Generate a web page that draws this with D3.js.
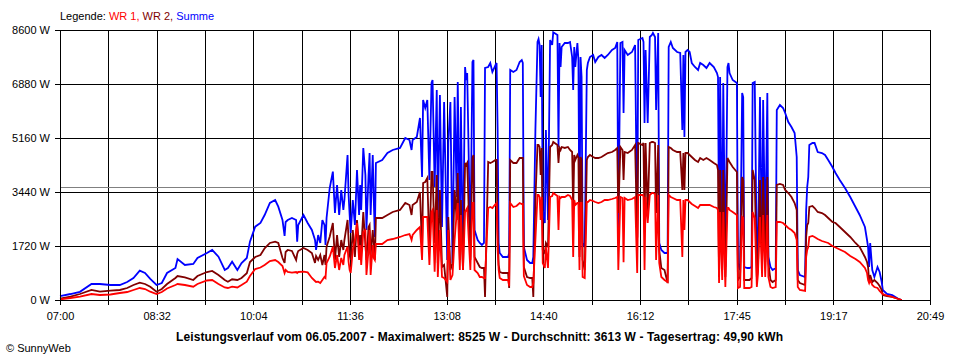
<!DOCTYPE html>
<html>
<head>
<meta charset="utf-8">
<script src="https://cdn.jsdelivr.net/npm/d3@7"></script>
<style>
  html, body { margin: 0; padding: 0; background: #fff; }
  svg { display: block; }
  text { font-family: "Liberation Sans", Arial, sans-serif; }
</style>
</head>
<body>
<svg id="chart" width="960" height="360"></svg>
<script>
// ---- Data (minutes after 07:00, watts) ----
const minutes = [
  0,10,19,30,38,48,57,64,70,76,
  81,86,92,97,102,110,112,119,127,131,
  140,145,151,157,160,164,169,173,178,181,
  186,191,195,200,205,208,212,214,215,217,
  221,225,226,227,232,236,240,243,244,246,
  248,250,252,253,254,257,260,262,264,266,
  268,270,271,274,275,276,277,279,281,283,
  285,286,287,289,291,292,294,295,296,298,
  299,300,301,307,312,317,324,329,333,335,
  336,340,343,345,346,348,350,352,354,355,
  357,359,360,362,364,366,369,370,372,374,
  376,378,379,381,382,384,386,387,388,391,
  393,394,395,398,400,402,404,405,408,410,
  412,415,416,417,418,419,422,427,428,429,
  432,435,438,440,441,442,445,448,450,451,
  453,455,456,457,458,459,460,462,463,465,
  467,469,470,474,475,476,477,478,481,484,
  486,488,489,490,491,493,494,495,496,497,
  498,500,502,503,505,508,510,513,516,519,
  522,526,529,531,532,534,536,537,538,541,
  545,548,550,551,555,556,557,558,560,562,
  564,565,567,568,570,571,573,576,579,580,
  582,584,588,591,593,594,595,596,598,600,
  602,605,608,610,613,616,619,623,626,627,
  628,629,631,632,634,636,637,638,641,645,
  646,648,650,651,652,655,657,659,660,662,
  664,665,667,669,670,672,674,675,677,679,
  682,683,686,689,691,694,697,700,702,703,
  705,710,711,712,713,714,717,719,722,726,
  729,732,736,739,743,748,753,758,762,767,
  769,770,771,772,774,776,779,781,783,784,
  788,793,796,799,802
];

const wr1 = [
  20,64,105,191,159,175,223,255,319,382,
  350,265,191,255,366,478,510,478,424,510,
  621,637,510,398,382,424,400,478,583,764,
  987,1035,1115,1242,1274,1210,1083,860,956,892,
  873,892,860,892,901,880,701,605,573,583,
  541,637,733,701,1179,1379,1698,1019,1433,956,
  1338,1115,1433,1698,1210,956,860,1593,1911,2450,
  1274,1752,1115,2166,2230,796,1593,2230,796,1752,
  1338,1274,1784,1784,1911,1943,2007,2070,2102,1911,
  2070,2230,2325,1274,2644,2644,2644,1115,2803,2867,
  900,2867,733,2230,733,701,573,2230,637,796,
  1911,2771,3090,956,2707,956,2803,2867,2930,956,
  3090,3090,956,860,733,733,701,701,2930,2962,
  2930,3058,3090,1593,956,701,637,637,446,3090,
  2962,2994,3090,3058,3058,764,478,414,414,541,
  1911,3344,3344,3281,2548,3281,1179,1019,1688,1019,
  3281,3313,3408,3313,2230,3281,3249,3281,3281,3344,
  3313,3185,1370,3185,3026,3090,3090,956,3090,3090,
  733,701,3121,3121,3185,3153,3121,3090,3121,3185,
  3185,3217,3249,3281,956,3281,3249,1200,3249,3185,
  3217,3281,860,3344,3344,3313,956,3281,2453,3344,
  3408,3408,3376,1274,3344,1179,733,637,573,3344,
  3281,3249,3185,3185,1370,3185,2230,3185,3185,3121,
  3058,2994,2930,3026,3026,3026,3026,2962,2930,2867,
  541,2803,637,2803,414,2930,2930,2867,2803,2707,
  382,414,2644,2612,382,382,382,414,2803,2612,
  414,796,2644,733,2707,733,2707,733,414,382,
  414,2484,2484,2453,2389,2293,2230,2134,1911,414,
  319,287,1370,1593,1688,2007,2039,2007,1943,1879,
  1847,1816,1720,1672,1608,1529,1401,1306,1210,1019,
  860,637,541,637,478,414,382,287,223,191,
  143,96,64,32,0
];

const wr2 = [
  41,105,191,319,265,297,319,382,478,551,
  510,424,265,350,510,701,764,723,637,764,
  892,924,796,637,583,660,637,700,853,1210,
  1370,1433,1647,1816,1857,1816,1338,1179,1529,1593,
  1561,1274,1465,1560,1656,1593,1497,1179,1401,1274,
  1433,1115,1433,1115,1698,2016,2453,1274,2070,1370,
  1911,1593,1911,2548,1911,1433,1274,2230,1370,2548,
  1688,2070,1593,2803,1752,1274,2325,2389,1433,2230,
  1752,1274,2612,2612,2707,2803,2867,3090,3026,2707,
  3026,3121,3440,1593,3727,3759,3886,1593,4077,4077,
  1816,3982,1179,3504,1051,1115,96,2644,956,1179,
  3504,2548,4045,1274,3185,956,4364,4300,4364,1274,
  4523,4619,1370,1179,1051,1019,1019,96,4396,4364,
  4396,4459,4459,2230,1115,892,860,860,382,4459,
  4364,4364,4523,4523,4523,1051,733,701,701,96,
  3185,4937,4937,4873,3982,4842,1593,1497,1816,1688,
  4873,4937,5033,4937,4364,4842,4778,4873,4842,4873,
  4778,4714,2867,4619,4459,4619,4523,1370,4555,4459,
  1274,956,4459,4555,4619,4555,4523,4523,4555,4619,
  4682,4714,4778,4842,2771,4873,4778,3822,4714,4682,
  4778,4937,1975,5001,4937,5001,2230,5001,2771,5001,
  5033,5033,5001,2771,4937,1593,1019,956,541,4873,
  4842,4778,4714,4714,3504,4682,3504,4682,4682,4619,
  4555,4459,4396,4523,4459,4523,4459,4364,4300,4141,
  733,4141,956,4141,733,4523,4459,4396,4236,4077,
  637,733,3918,3822,637,637,637,701,4141,3822,
  733,956,3822,1179,3918,1210,3918,1179,637,573,
  637,3663,3695,3663,3504,3408,3281,3090,2867,637,
  541,478,2007,2389,2453,2962,2994,2930,2803,2771,
  2707,2612,2484,2453,2325,2166,2007,1816,1688,1370,
  1210,1051,573,796,573,637,541,446,319,159,
  127,96,64,32,0
];

const summe = [
  127,191,260,510,510,478,478,573,700,933,
  860,670,478,541,860,1019,1306,1115,1147,1338,
  1497,1593,1379,956,1019,1220,956,1179,1338,1857,
  2335,2453,2707,3090,3185,2972,2548,2039,2484,2548,
  2612,2548,1857,2389,2707,2453,2230,1911,1593,2070,
  1816,2548,2389,1752,2612,3567,4090,2771,3663,2707,
  3504,2867,3185,4619,3344,2707,2134,3185,2389,4141,
  2707,3663,2867,4842,3982,2230,3982,4682,2707,4619,
  3185,2007,4364,4459,4682,4778,4842,5160,5096,4778,
  5096,5192,5797,3918,6370,6116,6370,3822,6912,7007,
  3599,6689,2644,6530,2325,6307,1274,5001,6307,1179,
  6466,3281,6944,2007,6147,1179,7421,7007,7230,1688,
  7581,7644,2230,1911,1816,1752,1816,7390,7421,7549,
  7262,7485,7549,5415,1816,1497,1370,1370,1497,7326,
  7262,7326,7581,7644,7549,1688,1274,1179,1179,1370,
  5415,8218,8313,8122,6466,8122,2867,2453,5415,2548,
  8282,8122,8525,8441,4873,8186,7421,8059,8186,8186,
  8218,7740,6689,8059,7421,8186,7644,1593,7740,7103,
  1816,1688,7326,7549,7740,7804,7581,7740,7804,7708,
  7804,7963,8027,8218,2230,8186,8218,5956,7963,7804,
  7899,8122,2007,8282,8345,8218,5638,7963,5638,8377,
  8441,8504,8377,6052,8504,1816,1593,1497,1497,8059,
  8218,8027,7899,7867,5415,7804,5192,7899,7963,7899,
  7549,7421,7326,7549,7485,7390,7549,7421,7230,7103,
  1816,7103,1497,6912,1051,7421,7549,7230,7007,6912,
  1179,956,6593,6466,1051,1019,1019,1051,6912,6944,
  1274,1370,6466,1274,6370,1816,6593,1370,1051,956,
  1019,6052,6211,6116,5956,5670,5510,5319,4555,956,
  796,733,2867,3599,3918,4937,5001,5001,4714,4682,
  4619,4459,4236,4045,3822,3567,3281,2962,2707,2325,
  1911,1688,1051,1816,956,733,1051,892,573,319,
  191,159,96,32,0
];

const yTicks = [0, 1720, 3440, 5160, 6880, 8600];
const xTickLabels = ["07:00","08:32","10:04","11:36","13:08","14:40","16:12","17:45","19:17","20:49"];
const totalMinutes = 829;      // 07:00 .. 20:49
const averageW = 3613;
const legendItems = [
  { text: "WR 1,", color: "#ff0000" },
  { text: " WR 2,", color: "#800000" },
  { text: " Summe", color: "#0000ff" }
];
const titleText = "Leistungsverlauf vom 06.05.2007 - Maximalwert: 8525 W - Durchschnitt: 3613 W - Tagesertrag: 49,90 kWh";
const copyrightText = "\u00A9 SunnyWeb";

// ---- Layout ----
const svg = d3.select("#chart");
const L = 60, R = 930, T = 30, B = 300;
const x = d3.scaleLinear().domain([0, totalMinutes]).range([L, R]);
const y = d3.scaleLinear().domain([0, 8600]).range([B, T]);

const gridMinutes = d3.range(19).map(i => i * totalMinutes / 18);

// grid
const grid = svg.append("g").attr("shape-rendering", "crispEdges");
grid.selectAll("line.v").data(gridMinutes).join("line")
  .attr("x1", d => Math.round(x(d)) + 0.5).attr("x2", d => Math.round(x(d)) + 0.5)
  .attr("y1", T).attr("y2", B)
  .attr("stroke", "#000").attr("stroke-width", 1);
grid.selectAll("line.h").data(yTicks).join("line")
  .attr("x1", L).attr("x2", R + 1)
  .attr("y1", d => Math.round(y(d)) + 0.5).attr("y2", d => Math.round(y(d)) + 0.5)
  .attr("stroke", "#000").attr("stroke-width", 1);

// average line
svg.append("line")
  .attr("shape-rendering", "crispEdges")
  .attr("x1", L).attr("x2", R)
  .attr("y1", Math.round(y(averageW)) + 0.5).attr("y2", Math.round(y(averageW)) + 0.5)
  .attr("stroke", "#808080").attr("stroke-width", 1);

// series
const pts = vals => minutes.map((m, i) => [m, vals[i]]);
const line = d3.line().x(d => x(d[0])).y(d => y(d[1]));
[[summe, "#0000ff"], [wr2, "#800000"], [wr1, "#ff0000"]].forEach(([vals, col]) => {
  svg.append("path")
    .attr("d", line(pts(vals)))
    .attr("fill", "none")
    .attr("stroke", col)
    .attr("stroke-width", 1.8)
    .attr("stroke-linejoin", "miter");
});

// axes
const xAxis = d3.axisBottom(x)
  .tickValues(gridMinutes)
  .tickFormat((d, i) => i % 2 === 0 ? xTickLabels[i / 2] : "")
  .tickSize(5).tickSizeOuter(0).tickPadding(7);
const gx = svg.append("g").attr("transform", `translate(0,${B})`).attr("shape-rendering", "crispEdges").call(xAxis);
gx.selectAll("text").attr("font-size", 11).attr("font-family", "Liberation Sans, Arial, sans-serif").attr("fill", "#000");

const yAxis = d3.axisLeft(y)
  .tickValues(yTicks)
  .tickFormat(d => d + " W")
  .tickSize(5).tickSizeOuter(0).tickPadding(5);
const gy = svg.append("g").attr("transform", `translate(${L},0)`).attr("shape-rendering", "crispEdges").call(yAxis);
gy.selectAll("text").attr("font-size", 11).attr("font-family", "Liberation Sans, Arial, sans-serif").attr("fill", "#000");

// top border
svg.append("line").attr("shape-rendering", "crispEdges")
  .attr("x1", L).attr("x2", R + 1).attr("y1", T + 0.5).attr("y2", T + 0.5)
  .attr("stroke", "#000");

// legend
const leg = svg.append("text").attr("x", L).attr("y", 20).attr("font-size", 11);
leg.append("tspan").attr("fill", "#000").text("Legende: ");
leg.selectAll("tspan.item").data(legendItems).join("tspan")
  .attr("class", "item").attr("fill", d => d.color).text(d => d.text);

// title
svg.append("text").attr("x", 479.5).attr("y", 341).attr("text-anchor", "middle")
  .attr("font-size", 12).attr("font-weight", "bold").attr("fill", "#000")
  .attr("textLength", 607).attr("lengthAdjust", "spacing").text(titleText);

// copyright
svg.append("text").attr("x", 6).attr("y", 352).attr("font-size", 11).attr("fill", "#000").text(copyrightText);
</script>
</body>
</html>
